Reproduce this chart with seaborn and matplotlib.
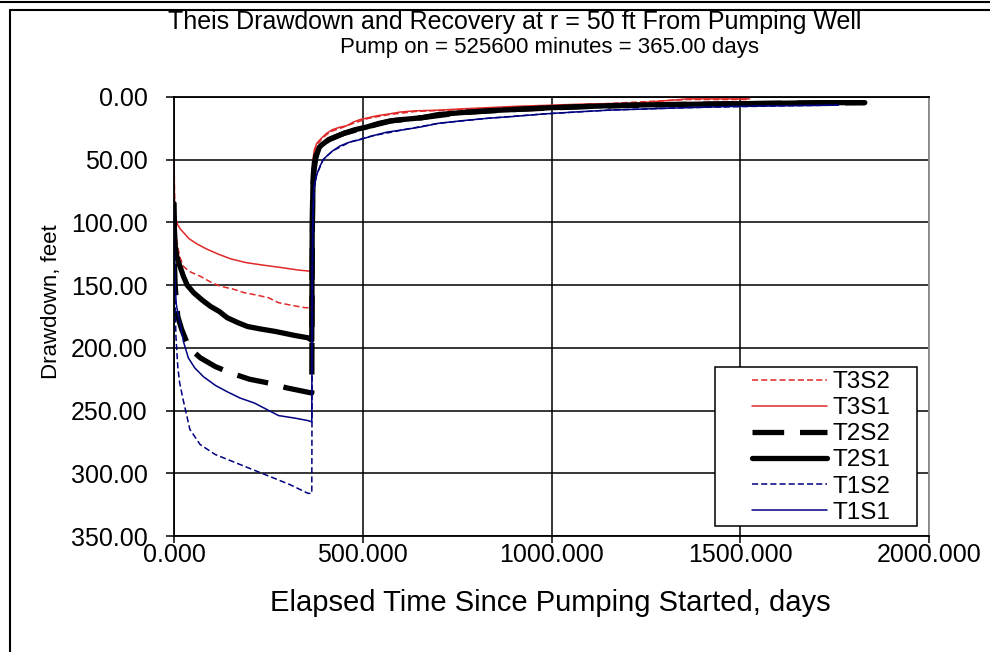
import numpy as np
import pandas as pd
import seaborn as sns
import matplotlib.pyplot as plt
from matplotlib.lines import Line2D
from matplotlib.patches import Rectangle

sns.set_theme(style="white")
plt.rcParams['font.family'] = ['Liberation Sans', 'DejaVu Sans']
plt.rcParams['text.color'] = 'black'
plt.rcParams['xtick.color'] = 'black'
plt.rcParams['ytick.color'] = 'black'

# ---- data (time in days, drawdown in feet) ----
# T3S1 (red solid)
t_t3s1 = [0.2, 1, 3, 6, 10, 16, 25, 40, 60, 85, 115, 150, 190, 235, 285, 330, 365,
          366, 367, 369, 372, 378, 390, 404, 420, 440, 457, 475, 493, 515, 537, 570, 599,
          640, 700, 760, 830, 900, 1000, 1100, 1220, 1360, 1525]
s_t3s1 = [50, 80, 92, 98, 102, 105, 108, 113, 117, 121, 125, 129, 132, 134, 136, 138, 139,
          80, 60, 48, 42, 37, 33, 29, 26, 24, 23, 20, 18, 16.5, 15, 13.5, 12,
          11, 10.5, 9.5, 8.5, 7.5, 6.5, 5.5, 5, 1.5, 1.5]

# T3S2 (red dashed)
t_t3s2 = [0.2, 1, 3, 6, 10, 16, 25, 40, 70, 100, 124, 155, 186, 220, 250, 277, 310, 347, 365,
          366, 367, 369, 372, 378, 390, 404, 420, 440, 475, 515, 570, 640, 760, 900, 1100, 1360, 1525]
s_t3s2 = [40, 70, 95, 110, 120, 128, 135, 139, 143, 148, 151, 153, 156, 158, 160, 164, 166, 168, 168,
          110, 70, 52, 44, 38, 34, 30, 27, 25, 21, 17, 14, 11.5, 10, 8, 6, 2, 2]

# T2S1 (black solid, thick)
t_t2s1 = [0.2, 1, 3, 6, 10, 17, 25, 35, 52, 75, 97, 120, 141, 170, 195, 230, 270, 318, 355, 365,
          366, 368, 371, 376, 385, 392, 410, 426, 450, 480, 510, 543, 575, 604, 657, 700, 760,
          830, 900, 1000, 1100, 1200, 1320, 1450, 1600, 1720, 1830]
s_t2s1 = [85, 105, 118, 125, 130, 136, 143, 150, 156, 162, 167, 171, 176, 180, 183, 185, 187, 190, 192, 194,
          110, 72, 58, 48, 40, 38, 34, 32, 29, 26, 24, 21, 19, 18, 16.5, 14, 12.5,
          11, 10, 8.5, 7.5, 6.5, 6, 5.5, 5, 4.5, 4.5]

# T2S2 (black dashed, thick)
t_t2s2 = [0.2, 1, 3, 6, 10, 20, 40, 70, 110, 150, 200, 250, 300, 365,
          366, 367, 369, 372, 378, 390, 410, 450, 510, 575, 657, 760, 900, 1100, 1320, 1600, 1830]
s_t2s2 = [95, 130, 150, 162, 175, 185, 200, 208, 215, 220, 225, 228, 232, 236,
          130, 85, 62, 52, 44, 39, 34, 29, 24, 19, 16.5, 12.5, 10, 7.5, 6, 5, 4.5]

# T1S1 (navy solid)
t_t1s1 = [0.2, 1, 3, 6, 10, 16, 25, 38, 55, 78, 110, 141, 175, 213, 245, 277, 320, 355, 365,
          366, 368, 370, 378, 387, 395, 405, 420, 440, 465, 493, 525, 564, 610, 652, 700, 760,
          830, 900, 980, 1060, 1150, 1250, 1360, 1480, 1620, 1760]
s_t1s1 = [84, 120, 150, 165, 172, 180, 195, 208, 216, 223, 230, 235, 240, 244, 249, 254, 256, 258, 259,
          130, 90, 74, 62, 55, 50, 47, 43, 39, 36, 34, 31, 28, 26, 24, 21, 19,
          17, 15.5, 13.5, 12, 10.5, 9.5, 8.5, 7.5, 7, 6.5]

# T1S2 (navy dashed)
t_t1s2 = [0.2, 1, 2, 5, 10, 15, 24, 42, 69, 109, 175, 241, 307, 355, 365,
          366, 367, 369, 372, 378, 395, 420, 465, 525, 610, 700, 830, 980, 1150, 1360, 1620, 1760]
s_t1s2 = [80, 120, 150, 190, 215, 228, 241, 265, 277, 285, 293, 301, 309, 316, 316,
          200, 140, 90, 70, 62, 50, 43, 36, 31, 26, 21, 17, 13.5, 10.5, 8.5, 7, 6.5]

series = [
    ("T3S2", t_t3s2, s_t3s2, "#e02828", 1.1, (0, (4, 2))),
    ("T3S1", t_t3s1, s_t3s1, "#e02828", 1.1, "-"),
    ("T2S2", t_t2s2, s_t2s2, "#000000", 3.8, (0, (6, 3))),
    ("T2S1", t_t2s1, s_t2s1, "#000000", 3.8, "-"),
    ("T1S2", t_t1s2, s_t1s2, "#000080", 1.1, (0, (4, 2))),
    ("T1S1", t_t1s1, s_t1s1, "#000080", 1.1, "-"),
]

fig = plt.figure(figsize=(9.9, 6.52), dpi=100)
ax = fig.add_axes([174 / 990, 1 - 536 / 652, 755 / 990, 439 / 652])

for name, t, s, col, lw, ls in series:
    df = pd.DataFrame({"t": t, "s": s})
    sns.lineplot(data=df, x="t", y="s", ax=ax, color=col, lw=lw, linestyle=ls,
                 estimator=None, sort=False, label=name)

ax.set_xlim(0, 2000)
ax.set_ylim(350, 0)
ax.set_xticks(np.arange(0, 2001, 500))
ax.set_yticks(np.arange(0, 351, 50))
ax.set_xticklabels([f"{v:.3f}" for v in np.arange(0, 2001, 500)])
ax.set_yticklabels([f"{v:.2f}" for v in np.arange(0, 351, 50)])
ax.grid(True, color="black", lw=1.1)
ax.set_axisbelow(True)
ax.tick_params(axis="x", direction="out", length=5, width=1.1, color="black",
               labelsize=18, pad=0, bottom=True)
ax.tick_params(axis="y", direction="out", length=6, width=1.1, color="black",
               labelsize=18, pad=13, left=True)
for side in ["left", "bottom", "top"]:
    ax.spines[side].set_color("black")
    ax.spines[side].set_linewidth(1.3)
ax.spines["right"].set_color("#909090")
ax.spines["right"].set_linewidth(1.3)
ax.set_xlabel("")
ax.set_ylabel("")

# legend: frame box plus entries
ax.add_patch(Rectangle(((715 - 174) / 755, (536 - 526) / 439), 202 / 755, 159 / 439,
                       transform=ax.transAxes, facecolor="white", edgecolor="black",
                       lw=1.1, zorder=4))
handles, labels = ax.get_legend_handles_labels()
ax.legend(handles, labels, loc="upper left", bbox_to_anchor=((752 - 174) / 755, (536 - 371) / 439),
          frameon=False, fontsize=17.5, labelspacing=0.17, handlelength=3.1, handletextpad=0.2,
          borderpad=0, borderaxespad=0)

fig.text(515 / 990, 1 - 22 / 652, "Theis Drawdown and Recovery at r = 50 ft From Pumping Well",
         ha="center", va="center", fontsize=18)
fig.text(549 / 990, 1 - 48 / 652, "Pump on = 525600 minutes = 365.00 days",
         ha="center", va="center", fontsize=16)
fig.text(550 / 990, 1 - 603 / 652, "Elapsed Time Since Pumping Started, days",
         ha="center", va="center", fontsize=21)
fig.text(52 / 990, 1 - 302 / 652, "Drawdown, feet", rotation=90,
         ha="center", va="center", fontsize=16)

# chart area border
fig.add_artist(Line2D([0, 1], [1 - 2 / 652, 1 - 2 / 652], transform=fig.transFigure, color="black", lw=1.5))
fig.add_artist(Line2D([10 / 990, 1], [1 - 10 / 652, 1 - 10 / 652], transform=fig.transFigure, color="black", lw=1.5))
fig.add_artist(Line2D([10 / 990, 10 / 990], [0, 1 - 10 / 652], transform=fig.transFigure, color="black", lw=1.5))

plt.savefig("out.png", dpi=100)
